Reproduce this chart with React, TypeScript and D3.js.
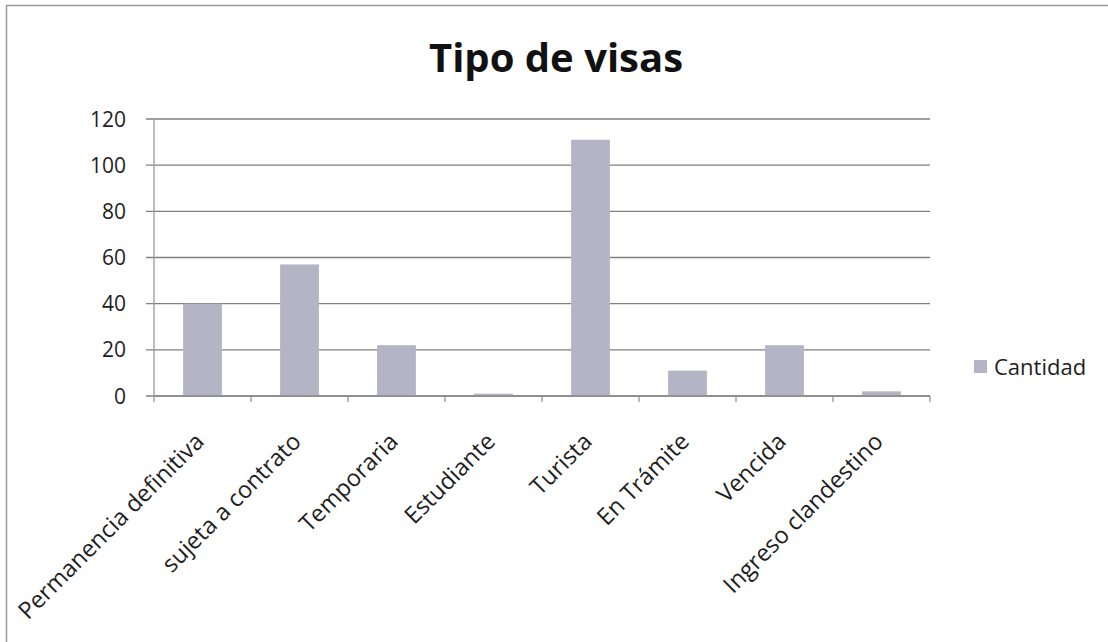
import { useRef, useEffect } from "react";
import * as d3 from "d3";

const categories = [
  "Permanencia definitiva",
  "sujeta a contrato",
  "Temporaria",
  "Estudiante",
  "Turista",
  "En Trámite",
  "Vencida",
  "Ingreso clandestino",
];
const cantidad = [40, 57, 22, 1, 111, 11, 22, 2];
const yTicks = [0, 20, 40, 60, 80, 100, 120];
const seriesName = "Cantidad";
const title = "Tipo de visas";

const barColor = "#b4b4c4";
const gridColor = "#808080";
const textColor = "#1e1e1e";
const font = "'Open Sans', 'Noto Sans', sans-serif";

export default function App() {
  const svgRef = useRef<SVGSVGElement>(null);
  const width = 1108;
  const height = 642;
  const plot = { left: 154, right: 930, top: 119, bottom: 396 };

  useEffect(() => {
    if (!svgRef.current) return;
    const svg = d3.select(svgRef.current);
    svg.selectAll("*").remove();

    svg.append("rect").attr("width", width).attr("height", height).attr("fill", "#fff");

    // chart frame (runs off the right and bottom edges)
    svg
      .append("rect")
      .attr("x", 6.5)
      .attr("y", 5.5)
      .attr("width", width + 20)
      .attr("height", height + 20)
      .attr("fill", "none")
      .attr("stroke", "#9a9a9a")
      .attr("stroke-width", 1.5);

    const x = d3
      .scaleBand()
      .domain(categories)
      .range([plot.left, plot.right])
      .paddingInner(0.6)
      .paddingOuter(0.3);
    const step = x.step();

    const y = d3.scaleLinear().domain([0, 120]).range([plot.bottom, plot.top]);

    // title
    svg
      .append("text")
      .attr("x", 556)
      .attr("y", 72)
      .attr("text-anchor", "middle")
      .attr("font-family", font)
      .attr("font-weight", 700)
      .attr("font-size", 40)
      .attr("fill", "#111")
      .text(title);

    // gridlines + y ticks
    for (const t of yTicks) {
      svg
        .append("line")
        .attr("x1", plot.left - 8)
        .attr("x2", plot.right)
        .attr("y1", y(t))
        .attr("y2", y(t))
        .attr("stroke", gridColor)
        .attr("stroke-width", 1.4);
      svg
        .append("text")
        .attr("x", 126)
        .attr("y", y(t))
        .attr("dy", "0.36em")
        .attr("text-anchor", "end")
        .attr("font-family", font)
        .attr("font-size", 21)
        .attr("fill", textColor)
        .text(t);
    }

    // y axis line
    svg
      .append("line")
      .attr("x1", plot.left)
      .attr("x2", plot.left)
      .attr("y1", plot.top)
      .attr("y2", plot.bottom)
      .attr("stroke", "#9a9a9a")
      .attr("stroke-width", 1.3);

    // bars
    svg
      .selectAll("rect.bar")
      .data(categories)
      .join("rect")
      .attr("class", "bar")
      .attr("x", (d) => x(d)!)
      .attr("y", (d, i) => y(cantidad[i]))
      .attr("width", x.bandwidth())
      .attr("height", (d, i) => y(0) - y(cantidad[i]))
      .attr("fill", barColor);

    // x axis line + ticks at category boundaries
    svg
      .append("line")
      .attr("x1", plot.left)
      .attr("x2", plot.right)
      .attr("y1", y(0))
      .attr("y2", y(0))
      .attr("stroke", "#8a8a8a")
      .attr("stroke-width", 1.3);
    for (let i = 0; i <= categories.length; i++) {
      const tx = plot.left + i * step;
      svg
        .append("line")
        .attr("x1", tx)
        .attr("x2", tx)
        .attr("y1", y(0))
        .attr("y2", y(0) + 6)
        .attr("stroke", "#8a8a8a")
        .attr("stroke-width", 1.2);
    }

    // rotated category labels
    for (const c of categories) {
      const cx = x(c)! + x.bandwidth() / 2 + 3;
      svg
        .append("text")
        .attr("transform", `translate(${cx},${y(0) + 47}) rotate(-45)`)
        .attr("text-anchor", "end")
        .attr("font-family", font)
        .attr("font-size", 23.5)
        .attr("fill", textColor)
        .text(c);
    }

    // legend
    svg
      .append("rect")
      .attr("x", 974)
      .attr("y", 360)
      .attr("width", 13)
      .attr("height", 13)
      .attr("fill", barColor);
    svg
      .append("text")
      .attr("x", 994)
      .attr("y", 367)
      .attr("dy", "0.36em")
      .attr("font-family", font)
      .attr("font-size", 22)
      .attr("fill", textColor)
      .text(seriesName);
  }, []);

  return (
    <div style={{ position: "fixed", left: 0, top: 0 }}>
      <svg ref={svgRef} width={width} height={height} viewBox={`0 0 ${width} ${height}`} style={{ display: "block" }} />
    </div>
  );
}
